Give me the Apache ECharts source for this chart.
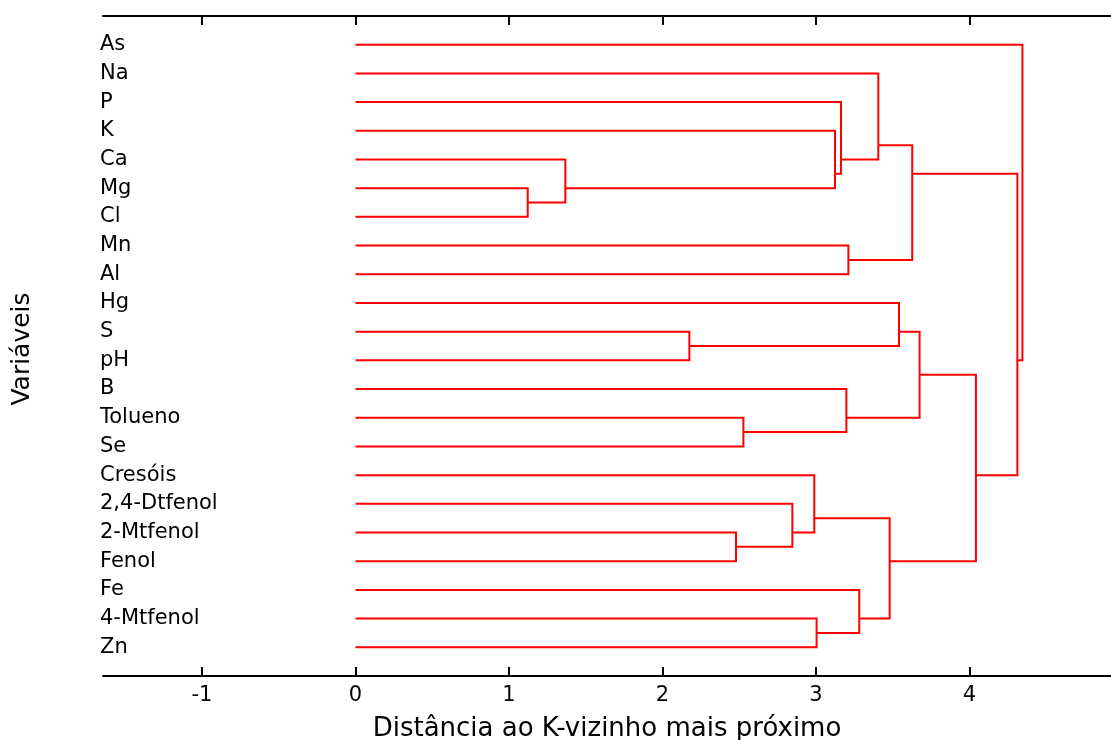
<!DOCTYPE html>
<html>
<head>
<meta charset="utf-8">
<title>Dendrograma</title>
<script src="https://cdn.jsdelivr.net/npm/echarts@6/dist/echarts.min.js"></script>
<style>
  html, body { margin: 0; padding: 0; background: #fff; }
  #chart { width: 1111px; height: 740px; }
</style>
</head>
<body>
<div id="chart"></div>
<script>
// Variables, top to bottom
const leaves = ['As', 'Na', 'P', 'K', 'Ca', 'Mg', 'Cl', 'Mn', 'Al', 'Hg', 'S', 'pH', 'B',
  'Tolueno', 'Se', 'Cresóis', '2,4-Dtfenol', '2-Mtfenol', 'Fenol', 'Fe', '4-Mtfenol', 'Zn'];

// Linkage: index < leaves.length is a leaf, otherwise cluster (index - leaves.length)
const mergeLeft  = [5, 4, 10, 17, 13, 16, 15, 20, 3, 2, 12, 7, 19, 1, 28, 9, 35, 37, 39, 38, 0];
const mergeRight = [6, 22, 11, 18, 14, 25, 27, 21, 23, 30, 26, 8, 29, 31, 34, 24, 33, 32, 36, 40, 41];
const mergeHeight = [1.122, 1.367, 2.175, 2.479, 2.527, 2.846, 2.989, 3.004, 3.124, 3.163, 3.198,
  3.211, 3.282, 3.406, 3.480, 3.541, 3.627, 3.675, 4.042, 4.312, 4.345];

// Axis ticks
const xTicks = [-1, 0, 1, 2, 3, 4];

// Build node positions: leaves sit at 1..n, clusters at the mean of their leaves
const n = leaves.length;
const nodeLeaves = [];
const nodeHeight = [];
for (let i = 0; i < n; i++) { nodeLeaves.push([i + 1]); nodeHeight.push(0); }
mergeLeft.forEach((a, k) => {
  const b = mergeRight[k];
  nodeLeaves.push(nodeLeaves[a].concat(nodeLeaves[b]));
  nodeHeight.push(mergeHeight[k]);
});
const nodeY = nodeLeaves.map(l => l.reduce((s, v) => s + v, 0) / l.length);

// One item per merge: [height, yA, hA, yB, hB]
const linkData = mergeLeft.map((a, k) => {
  const b = mergeRight[k];
  return [mergeHeight[k], nodeY[a], nodeHeight[a], nodeY[b], nodeHeight[b]];
});

const FONT = 'DejaVu Sans';
const chart = echarts.init(document.getElementById('chart'), null, { renderer: 'canvas' });

const axisBase = {
  type: 'value', min: -1.645, max: 4.922,
  axisLine: { show: true, onZero: false, lineStyle: { color: '#000', width: 2 } },
  axisTick: { show: true, inside: true, length: 9, customValues: xTicks, lineStyle: { color: '#000', width: 2 } },
  splitLine: { show: false }
};

const option = {
  animation: false,
  backgroundColor: '#ffffff',
  grid: { left: 103, right: 0, top: 16, height: 660, containLabel: false, outerBoundsMode: 'none' },
  graphic: [{
    type: 'text',
    x: 22, y: 349,
    rotation: Math.PI / 2,
    style: {
      text: 'Variáveis', fill: '#000', font: '25px "DejaVu Sans"',
      align: 'center', verticalAlign: 'middle'
    }
  }],
  xAxis: [
    Object.assign({}, axisBase, {
      position: 'bottom',
      axisLabel: { show: true, customValues: xTicks, margin: 9, color: '#000', fontFamily: FONT, fontSize: 21 },
      name: 'Distância ao K-vizinho mais próximo',
      nameLocation: 'middle', nameGap: 40,
      nameTextStyle: { color: '#000', fontFamily: FONT, fontSize: 26 }
    }),
    Object.assign({}, axisBase, {
      position: 'top',
      axisLabel: { show: false }
    })
  ],
  yAxis: {
    type: 'value', min: 0, max: n + 1, interval: 1, inverse: true,
    axisLine: { show: false }, axisTick: { show: false }, splitLine: { show: false },
    axisLabel: {
      inside: true, margin: -3, align: 'left', color: '#000', fontFamily: FONT, fontSize: 21,
      formatter: v => leaves[v - 1] || ''
    }
  },
  series: [{
    type: 'custom',
    xAxisIndex: 0,
    data: linkData,
    encode: { x: [0, 2, 4], y: [1, 3] },
    renderItem: (params, api) => {
      const h = api.value(0), yA = api.value(1), hA = api.value(2), yB = api.value(3), hB = api.value(4);
      const pts = [api.coord([hA, yA]), api.coord([h, yA]), api.coord([h, yB]), api.coord([hB, yB])];
      return {
        type: 'polyline',
        shape: { points: pts },
        style: { stroke: '#ff0000', lineWidth: 2, fill: null, lineJoin: 'miter' }
      };
    }
  }]
};
chart.setOption(option);
</script>
</body>
</html>
